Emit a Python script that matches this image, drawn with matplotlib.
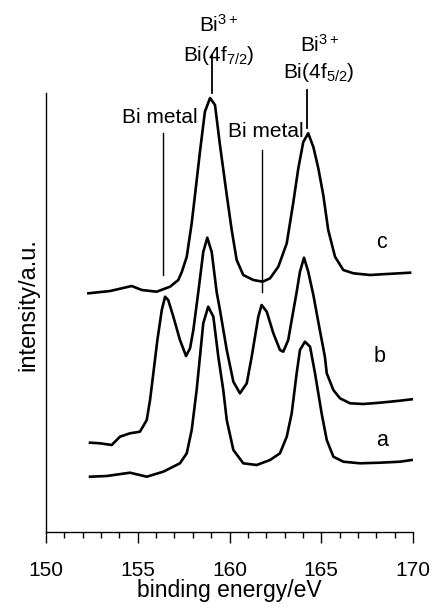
import matplotlib
matplotlib.use("Agg")
import matplotlib.pyplot as plt
from matplotlib.ticker import MultipleLocator

plt.rcParams['font.family'] = ['Liberation Sans', 'DejaVu Sans']
plt.rcParams['mathtext.fontset'] = 'custom'
plt.rcParams['mathtext.rm'] = 'Liberation Sans'
plt.rcParams['mathtext.it'] = 'Liberation Sans'

# ---- data (binding energy / eV, intensity / a.u.) ----
a_x = [152.40, 153.31, 154.58, 155.49, 156.39, 157.30, 157.67, 157.94, 158.21, 158.39,
       158.57, 158.84, 159.12, 159.39, 159.66, 159.85, 160.21, 160.75, 161.48,
       162.21, 162.75, 163.12, 163.39, 163.66, 163.84, 164.11, 164.39, 164.66, 165.02,
       165.30, 165.66, 166.20, 167.11, 168.20, 169.29, 169.93]
a_y = [55.3, 56.0, 59.3, 55.3, 60.3, 68.7, 78.7, 102.0, 142.0, 175.3,
       208.7, 225.3, 215.3, 175.3, 142.0, 112.0, 82.0, 68.7, 67.0,
       72.0, 78.7, 95.3, 118.7, 158.7, 182.0, 190.3, 185.3, 158.7, 118.7,
       92.0, 75.3, 70.3, 68.7, 69.3, 70.3, 72.0]

b_x = [152.40, 152.94, 153.58, 154.03, 154.58, 155.12, 155.49, 155.67, 155.85, 156.07,
       156.31, 156.49, 156.66, 156.94, 157.30, 157.63, 157.85, 158.03, 158.30, 158.57,
       158.79, 159.03, 159.30, 159.48, 159.85, 160.21, 160.57, 160.94, 161.21, 161.57,
       161.75, 162.03, 162.39, 162.75, 162.93, 163.20, 163.39, 163.66, 163.84, 164.06,
       164.29, 164.57, 164.84, 165.20, 165.30, 165.66, 166.02, 166.57, 167.29, 168.20,
       169.29, 169.93]
b_y = [89.3, 88.7, 87.0, 95.3, 98.7, 100.3, 112.0, 132.0, 158.7, 192.0,
       222.0, 235.3, 232.0, 215.3, 192.0, 176.0, 183.7, 202.0, 240.0, 280.0,
       294.3, 280.0, 240.0, 222.0, 182.0, 150.3, 138.7, 148.7, 175.3, 215.3,
       227.0, 220.3, 198.7, 182.0, 180.3, 192.0, 212.0, 240.0, 260.3, 274.3,
       260.3, 237.0, 210.0, 175.0, 158.7, 142.0, 133.7, 128.7, 128.0, 129.3,
       131.3, 132.7]

c_x = [152.31, 153.50, 154.67, 155.22, 156.03, 156.76, 157.21, 157.40, 157.67, 157.94,
       158.12, 158.39, 158.66, 158.94, 159.21, 159.48, 159.85, 160.12,
       160.39, 160.75, 161.30, 161.81, 162.21, 162.66, 163.12, 163.48, 163.75, 164.02,
       164.29, 164.57, 164.84, 165.11, 165.38, 165.75, 166.20, 166.75, 167.66, 168.57,
       169.84]
c_y = [238.7, 241.0, 246.0, 242.0, 240.3, 245.3, 252.0, 260.0, 275.3, 308.7,
       337.0, 380.3, 420.3, 434.0, 427.0, 387.0, 337.0, 302.0,
       272.0, 257.0, 252.0, 250.3, 253.7, 265.3, 288.7, 330.0, 363.7, 390.0,
       398.7, 385.0, 363.7, 337.0, 302.0, 275.3, 262.0, 258.7, 257.0, 258.0,
       259.3]

curve_labels = ['a', 'b', 'c']
x_ticks = [150, 155, 160, 165, 170]

# ---- figure ----
fig = plt.figure(figsize=(4.35, 6.08), dpi=100)
ax = fig.add_axes([46/435, (608-532)/608, 367/435, 439/608])

lw = 1.9
for xs, ys in [(a_x, a_y), (b_x, b_y), (c_x, c_y)]:
    ax.plot(xs, ys, color='black', lw=lw, solid_joinstyle='round')

ax.set_xlim(150, 170)
ax.set_ylim(0, 439)
for s in ['top', 'right']:
    ax.spines[s].set_visible(False)
ax.spines['left'].set_linewidth(1.0)
ax.spines['bottom'].set_linewidth(1.0)
ax.set_yticks([])
ax.set_xticks(x_ticks)
ax.xaxis.set_minor_locator(MultipleLocator(1))
ax.tick_params(axis='x', which='major', direction='out', length=8, width=1.0,
               pad=13, labelsize=15)
ax.tick_params(axis='x', which='minor', direction='out', length=4.5, width=1.0)

ax.set_xlabel('binding energy/eV', fontsize=16.5)
ax.xaxis.set_label_coords(0.5, -0.108)
ax.set_ylabel('intensity/a.u.', fontsize=17, va='center')
ax.yaxis.set_label_coords(-0.049, 0.517)

# curve labels
for lab, (lx, ly) in zip(curve_labels, [(168.29, 86), (168.2, 170), (168.29, 284)]):
    ax.text(lx, ly, lab, fontsize=15.5, ha='center', va='baseline')

# peak annotations
fs = 15
ax.text(158.34, 500, r'Bi$^{\mathregular{3+}}$', fontsize=fs, ha='left', va='baseline')
ax.text(157.47, 471, r'Bi(4f$_{\mathregular{7/2}}$)', fontsize=fs, ha='left', va='baseline')
ax.plot([159.05, 159.05], [477, 439], color='black', lw=1.3, clip_on=False)

ax.text(163.84, 480, r'Bi$^{\mathregular{3+}}$', fontsize=fs, ha='left', va='baseline')
ax.text(162.92, 454, r'Bi(4f$_{\mathregular{5/2}}$)', fontsize=fs, ha='left', va='baseline')
ax.plot([164.22, 164.22], [442, 404], color='black', lw=1.3, clip_on=False)

ax.text(154.12, 409, 'Bi metal', fontsize=fs, ha='left', va='baseline')
ax.plot([156.39, 156.39], [399, 257], color='black', lw=1.0)
ax.text(159.93, 395, 'Bi metal', fontsize=fs, ha='left', va='baseline')
ax.plot([161.75, 161.75], [382, 240], color='black', lw=1.0)

fig.savefig('out.png', dpi=100)
